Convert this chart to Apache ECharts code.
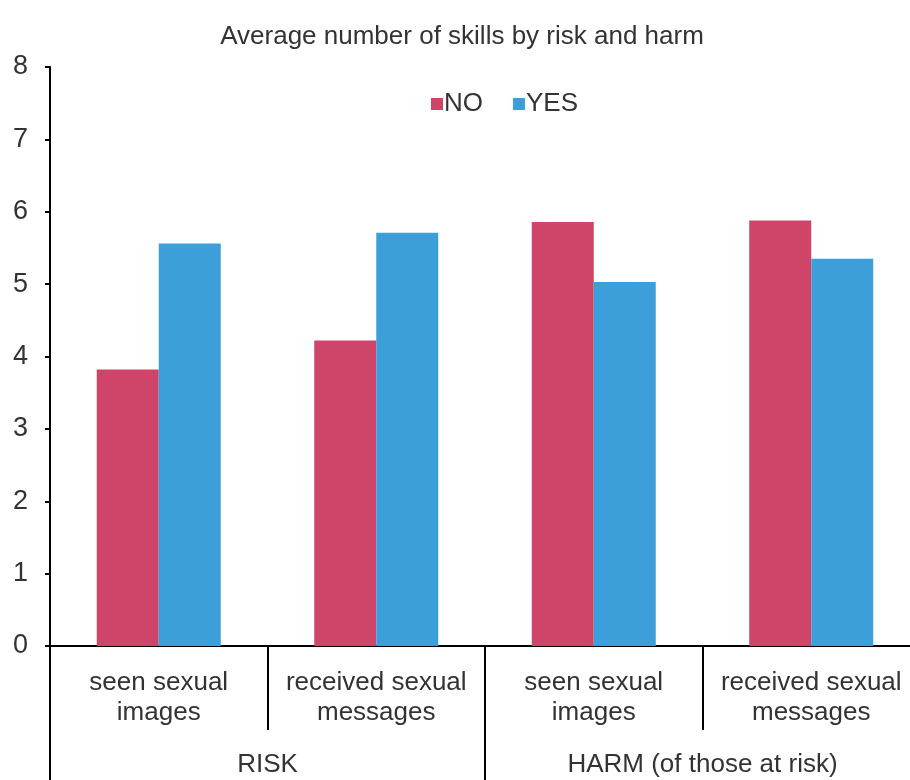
<!DOCTYPE html>
<html>
<head>
<meta charset="utf-8">
<script src="https://cdn.jsdelivr.net/npm/echarts@6/dist/echarts.min.js"></script>
<style>
html,body{margin:0;padding:0;background:#fff;overflow:hidden;}
#chart{width:940px;height:780px;}
</style>
</head>
<body>
<div id="chart"></div>
<script>
const categories = ['seen sexual\nimages', 'received sexual\nmessages', 'seen sexual\nimages', 'received sexual\nmessages'];
const groups = ['RISK', 'HARM (of those at risk)'];
const noValues = [3.82, 4.22, 5.86, 5.88];
const yesValues = [5.56, 5.71, 5.03, 5.35];
const seriesNames = ['NO', 'YES'];

const FONT = 'Liberation Sans, Arial, Helvetica, sans-serif';
const TXT = '#333';
const chart = echarts.init(document.getElementById('chart'));
chart.setOption({
  animation: false,
  backgroundColor: '#fff',
  title: {
    text: 'Average number of skills by risk and harm',
    left: 457, top: 19, textAlign: 'center',
    textStyle: {fontFamily: FONT, fontSize: 26, fontWeight: 'normal', color: TXT}
  },
  legend: {
    data: seriesNames,
    left: 426, top: 86,
    icon: 'rect', itemWidth: 12, itemHeight: 12, itemGap: 30,
    textStyle: {fontFamily: FONT, fontSize: 26, color: TXT, padding: [0,0,0,-4]}
  },
  grid: {left: 50, top: 67, width: 870, bottom: 134, containLabel: false},
  xAxis: [
    {
      type: 'category', data: categories, position: 'bottom',
      axisLine: {lineStyle: {color: '#000', width: 2}},
      axisTick: {show: true, length: 84, interval: 0, lineStyle: {color: '#000', width: 2}},
      axisLabel: {interval: 0, margin: 22, fontFamily: FONT, fontSize: 26, lineHeight: 30, color: TXT}
    },
    {
      type: 'category', data: groups, position: 'bottom',
      axisLine: {show: false},
      axisTick: {show: true, length: 134, interval: 0, lineStyle: {color: '#000', width: 2}},
      axisLabel: {interval: 0, margin: 106, fontFamily: FONT, fontSize: 26, color: TXT}
    }
  ],
  yAxis: {
    type: 'value', min: 0, max: 8, interval: 1,
    axisLine: {show: true, lineStyle: {color: '#000', width: 2}},
    axisTick: {show: true, length: 5, lineStyle: {color: '#000', width: 2}},
    splitLine: {show: false},
    axisLabel: {margin: 22, fontFamily: FONT, fontSize: 27, color: TXT}
  },
  series: [
    {name: 'NO', type: 'bar', data: noValues, barWidth: 62, barGap: '0%', xAxisIndex: 0,
     itemStyle: {color: '#CF4469'}},
    {name: 'YES', type: 'bar', data: yesValues, barWidth: 62, barGap: '0%', xAxisIndex: 0,
     itemStyle: {color: '#3C9FD9'}}
  ]
});
</script>
</body>
</html>
